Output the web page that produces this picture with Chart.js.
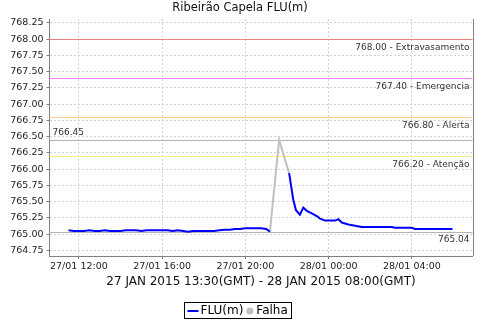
<!DOCTYPE html>
<html>
<head>
<meta charset="utf-8">
<title>Ribeirão Capela FLU(m)</title>
<script src="https://cdn.jsdelivr.net/npm/chart.js@4.4.1/dist/chart.umd.min.js"></script>
<style>
  html, body { margin: 0; padding: 0; background: #fff; }
  canvas { display: block; }
</style>
</head>
<body>
<canvas id="fluChart" width="480" height="320"></canvas>
<script>
const chartTitle = "Ribeirão Capela FLU(m)";
const periodLabel = "27 JAN 2015 13:30(GMT) - 28 JAN 2015 08:00(GMT)";

// horas contadas a partir de 27/01 00:00 (hora local)
const fluHoursA = [11.5, 11.75, 12, 12.25, 12.5, 12.75, 13, 13.25, 13.5, 13.75, 14, 14.25, 14.5, 14.75,
  15, 15.25, 15.5, 15.75, 16, 16.25, 16.5, 16.75, 17, 17.25, 17.5, 17.75, 18, 18.25, 18.5, 18.75,
  19, 19.25, 19.5, 19.75, 20, 20.25, 20.5, 20.75, 21, 21.18];
const fluLevelsA = [765.06, 765.05, 765.05, 765.05, 765.06, 765.05, 765.05, 765.06, 765.05, 765.05, 765.05, 765.06, 765.06, 765.06,
  765.05, 765.06, 765.06, 765.06, 765.06, 765.06, 765.05, 765.06, 765.05, 765.04, 765.05, 765.05, 765.05, 765.05, 765.05, 765.06,
  765.07, 765.07, 765.08, 765.08, 765.09, 765.09, 765.09, 765.09, 765.08, 765.04];

const falhaHours = [21.18, 21.62, 22.1];
const falhaLevels = [765.04, 766.45, 765.94];

const fluHoursB = [22.1, 22.3, 22.43, 22.62, 22.78, 22.95, 23.19, 23.43, 23.59, 23.83, 24.31, 24.47, 24.63,
  24.95, 25.27, 25.59, 27.03, 27.19, 27.99, 28.15, 29.95];
const fluLevelsB = [765.94, 765.53, 765.37, 765.30, 765.41, 765.36, 765.32, 765.28, 765.24, 765.21, 765.21, 765.23, 765.18,
  765.15, 765.13, 765.11, 765.11, 765.10, 765.10, 765.08, 765.08];

const xTickHours = [12, 16, 20, 24, 28];
const xTickLabels = ["27/01 12:00", "27/01 16:00", "27/01 20:00", "28/01 00:00", "28/01 04:00"];
const yTickValues = [764.75, 765.00, 765.25, 765.50, 765.75, 766.00, 766.25, 766.50, 766.75,
  767.00, 767.25, 767.50, 767.75, 768.00, 768.25];

const alertLevels = [768.00, 767.40, 766.80, 766.20];
const alertNames = ["Extravasamento", "Emergencia", "Alerta", "Atenção"];
const alertColors = ["#e88080", "#ff80ff", "#ffcc8c", "#f6ef84"];

function toPoints(hours, levels) {
  return hours.map(function (h, i) { return { x: h, y: levels[i] }; });
}

const fluPoints = toPoints(fluHoursA, fluLevelsA)
  .concat([{ x: 21.6, y: null }])
  .concat(toPoints(fluHoursB, fluLevelsB));
const falhaPoints = toPoints(falhaHours, falhaLevels);

const allLevels = fluLevelsA.concat(fluLevelsB, falhaLevels);
const maxLevel = Math.max.apply(null, allLevels);
const minLevel = Math.min.apply(null, allLevels);

const FONT = "DejaVu Sans";

const markLines = {
  id: "markLines",
  beforeDatasetsDraw(chart) {
    const { ctx, chartArea: a, scales: { y } } = chart;
    ctx.save();
    ctx.lineWidth = 1;
    alertLevels.forEach(function (v, i) {
      const py = Math.round(y.getPixelForValue(v)) + 0.5;
      ctx.strokeStyle = alertColors[i];
      ctx.beginPath();
      ctx.moveTo(a.left, py);
      ctx.lineTo(a.right, py);
      ctx.stroke();
    });
    ctx.strokeStyle = "#b4b4b4";
    [maxLevel, minLevel].forEach(function (v) {
      const py = Math.round(y.getPixelForValue(v)) + 0.5;
      ctx.beginPath();
      ctx.moveTo(a.left, py);
      ctx.lineTo(a.right, py);
      ctx.stroke();
    });
    ctx.restore();
  },
  afterDatasetsDraw(chart) {
    const { ctx, chartArea: a, scales: { y } } = chart;
    ctx.save();
    ctx.font = "9px '" + FONT + "'";
    ctx.fillStyle = "#333";
    ctx.textBaseline = "middle";
    ctx.textAlign = "right";
    alertLevels.forEach(function (v, i) {
      ctx.fillText(v.toFixed(2) + " - " + alertNames[i], a.right - 3, y.getPixelForValue(v) + 8.5);
    });
    ctx.fillText(minLevel.toFixed(2), a.right - 3, y.getPixelForValue(minLevel) + 8);
    ctx.textAlign = "left";
    ctx.fillText(maxLevel.toFixed(2), a.left + 3, y.getPixelForValue(maxLevel) - 7.5);
    ctx.restore();
  },
  afterDraw(chart) {
    const { ctx, chartArea: a } = chart;
    ctx.save();
    // borda direita
    ctx.strokeStyle = "#808080";
    ctx.lineWidth = 1;
    ctx.beginPath();
    ctx.moveTo(Math.round(a.right) + 0.5, a.top);
    ctx.lineTo(Math.round(a.right) + 0.5, a.bottom);
    ctx.stroke();

    ctx.fillStyle = "#111";
    ctx.textAlign = "center";
    ctx.textBaseline = "middle";
    ctx.font = "11.5px '" + FONT + "'";
    ctx.fillText(chartTitle, 240, 8);
    ctx.font = "12px '" + FONT + "'";
    ctx.fillText(periodLabel, (a.left + a.right) / 2, 282);

    // legenda
    const ds = chart.data.datasets;
    const w1 = ctx.measureText(ds[0].label).width;
    const w2 = ctx.measureText(ds[1].label).width;
    const boxW = 3 + 11 + 2 + w1 + 3 + 7 + 3 + w2 + 4;
    const bx = Math.round(238 - boxW / 2) + 0.5;
    const by = 302.5, cy = 311;
    ctx.strokeStyle = "#000";
    ctx.strokeRect(bx, by, Math.round(boxW), 16);
    let x = bx + 3;
    ctx.strokeStyle = ds[0].borderColor;
    ctx.lineWidth = 2;
    ctx.beginPath();
    ctx.moveTo(x, cy);
    ctx.lineTo(x + 11, cy);
    ctx.stroke();
    x += 13;
    ctx.textAlign = "left";
    ctx.fillStyle = "#000";
    ctx.fillText(ds[0].label, x, cy);
    x += w1 + 3;
    ctx.fillStyle = ds[1].borderColor;
    ctx.beginPath();
    ctx.arc(x + 3.5, cy, 3.5, 0, Math.PI * 2);
    ctx.fill();
    x += 10;
    ctx.fillStyle = "#000";
    ctx.fillText(ds[1].label, x, cy);
    ctx.restore();
  },
};

const gridOpts = { color: "#d2d2d2", tickColor: "#808080", tickLength: 3 };
const borderOpts = { color: "#808080", dash: [2, 2] };

new Chart(document.getElementById("fluChart").getContext("2d"), {
  type: "line",
  data: {
    datasets: [
      {
        label: "FLU(m)",
        data: fluPoints,
        borderColor: "#0000ff",
        backgroundColor: "#0000ff",
        borderWidth: 2,
        pointRadius: 0,
        spanGaps: false,
        tension: 0,
      },
      {
        label: "Falha",
        data: falhaPoints,
        borderColor: "#c0c0c0",
        backgroundColor: "#c0c0c0",
        borderWidth: 2,
        pointRadius: 0,
        tension: 0,
      },
    ],
  },
  options: {
    responsive: false,
    animation: false,
    layout: { padding: { top: 19, right: 7.5, bottom: 0, left: 0 } },
    plugins: {
      legend: { display: false },
      title: { display: false },
      tooltip: { enabled: false },
    },
    scales: {
      x: {
        type: "linear",
        min: 10.587,
        max: 30.912,
        afterBuildTicks: function (s) {
          s.ticks = xTickHours.map(function (h) { return { value: h }; });
        },
        afterFit: function (s) { s.height = 64; },
        ticks: {
          autoSkip: false,
          maxRotation: 0,
          padding: 1.5,
          color: "#222",
          font: { family: FONT, size: 9.5 },
          callback: function (v) { return xTickLabels[xTickHours.indexOf(v)]; },
        },
        grid: gridOpts,
        border: borderOpts,
      },
      y: {
        type: "linear",
        min: 764.665,
        max: 768.31,
        afterBuildTicks: function (s) {
          s.ticks = yTickValues.map(function (v) { return { value: v }; });
        },
        afterFit: function (s) { s.width = 49.5; },
        ticks: {
          padding: 3,
          color: "#222",
          font: { family: FONT, size: 9.5 },
          callback: function (v) { return Number(v).toFixed(2); },
        },
        grid: gridOpts,
        border: borderOpts,
      },
    },
  },
  plugins: [markLines],
});
</script>
</body>
</html>
